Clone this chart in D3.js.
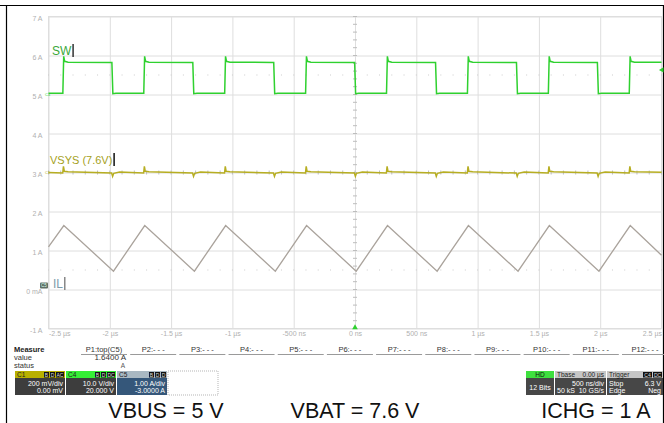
<!DOCTYPE html>
<html>
<head>
<meta charset="utf-8">
<script src="https://cdn.jsdelivr.net/npm/d3@7"></script>
<style>
  body { margin: 0; background: #fff; }
  svg { display: block; font-family: "Liberation Sans", Arial, sans-serif; }
</style>
</head>
<body>
<div id="chart"></div>
<script>
// time axis (ns) and amplitude axis (grid labelled in A, C5 scale)
const timeTicks = [-2500, -2000, -1500, -1000, -500, 0, 500, 1000, 1500, 2000, 2500];
const timeLabels = ["-2.5 µs", "-2 µs", "-1.5 µs", "-1 µs", "-500 ns", "0 ns", "500 ns", "1 µs", "1.5 µs", "2 µs", "2.5 µs"];
const ampTicks = [-1, 0, 1, 2, 3, 4, 5, 6, 7];
const ampLabels = ["-1 A", "0 mA", "1 A", "2 A", "3 A", "4 A", "5 A", "6 A", "7 A"];

// SW (C4) edges in ns, levels in V
const swFall = [-1980, -1320, -660, 0, 660, 1320, 1980];
const swRise = [-2380, -1720, -1060, -400, 260, 920, 1580, 2240];
const swLow = 0.3, swHigh = 8.3, swPeak = 9.8;

// VSYS (C1, AC) spikes in mV
const vsysRiseSpike = 32, vsysFallDip = -20;

// IL (C5) triangle vertices [ns, A]
const ilPoints = [
  [-2500, 1.09], [-2375, 1.64], [-1970, 0.47], [-1715, 1.64], [-1310, 0.47],
  [-1055, 1.64], [-650, 0.47], [-395, 1.64], [10, 0.47], [265, 1.64],
  [670, 0.47], [925, 1.64], [1330, 0.47], [1585, 1.64], [1990, 0.47],
  [2245, 1.64], [2500, 0.88]
];

// channel setup
const chanNames = ["C1", "C4", "C5"];
const chanScale = ["200 mV/div", "10.0 V/div", "1.00 A/div"];
const chanOffset = ["0.00 mV", "20.000 V", "-3.0000 A"];
const chanBadges = [["B", "D", "AC"], ["B", "D", "DC"], ["B", "D", "D"]];

const measureCols = ["P1:top(C5)", "P2:- - -", "P3:- - -", "P4:- - -", "P5:- - -", "P6:- - -",
  "P7:- - -", "P8:- - -", "P9:- - -", "P10:- - -", "P11:- - -", "P12:- - -"];
const measureValue = "1.6400 A";

const footerTexts = ["VBUS = 5 V", "VBAT = 7.6 V", "ICHG = 1 A"];

const W = 664, H = 423;
const svg = d3.select("#chart").append("svg").attr("width", W).attr("height", H);
svg.append("rect").attr("width", W).attr("height", H).attr("fill", "#fff");

// outer frame
svg.append("line").attr("x1", 0).attr("x2", W).attr("y1", 5.5).attr("y2", 5.5).attr("stroke", "#000").attr("stroke-width", 1.2);
svg.append("line").attr("x1", 6.5).attr("x2", 6.5).attr("y1", 5).attr("y2", H).attr("stroke", "#000").attr("stroke-width", 1.2);
svg.append("line").attr("x1", 663.5).attr("x2", 663.5).attr("y1", 5).attr("y2", H).attr("stroke", "#000").attr("stroke-width", 1.2);

const plot = { left: 48.5, right: 661.5, top: 16.5, bottom: 328.5 };
const x = d3.scaleLinear().domain([-2500, 2500]).range([plot.left, plot.right]);
const y = d3.scaleLinear().domain([-1, 7]).range([plot.bottom, plot.top]);

// channel position -> grid units
const c4 = v => 3 + (v + 20) / 10;
const c1 = mv => 3 + mv / 200;

const gridColor = "#dedede";
const labelColor = "#b0b0b0";

// x grid + labels
const xAxis = svg.append("g")
  .attr("transform", "translate(0," + plot.bottom + ")")
  .call(d3.axisBottom(x).tickValues(timeTicks).tickSize(-(plot.bottom - plot.top))
    .tickPadding(3).tickFormat((d, i) => timeLabels[i]));
xAxis.select(".domain").remove();
xAxis.selectAll("line").attr("stroke", gridColor);
xAxis.selectAll("text").attr("fill", labelColor).style("font-size", "7px")
  .attr("text-anchor", (d, i) => i === 0 ? "start" : (i === timeTicks.length - 1 ? "end" : "middle"));

// y grid + labels
const yAxis = svg.append("g")
  .attr("transform", "translate(" + plot.left + ",0)")
  .call(d3.axisLeft(y).tickValues(ampTicks).tickSize(-(plot.right - plot.left))
    .tickPadding(6).tickFormat((d, i) => ampLabels[i]));
yAxis.select(".domain").remove();
yAxis.selectAll("line").attr("stroke", gridColor);
yAxis.selectAll("text").attr("fill", labelColor).style("font-size", "7px").attr("dy", "0.55em");

svg.append("rect")
  .attr("x", plot.left).attr("y", plot.top)
  .attr("width", plot.right - plot.left).attr("height", plot.bottom - plot.top)
  .attr("fill", "none").attr("stroke", gridColor);

// minor ticks on centre axes and dotted rows
const minorT = d3.range(-2500, 2501, 100);
const minorA = d3.range(-1, 7.01, 0.2);
svg.append("g").selectAll("line").data(minorA).join("line")
  .attr("x1", x(0) - 2).attr("x2", x(0) + 2)
  .attr("y1", d => y(d)).attr("y2", d => y(d))
  .attr("stroke", "#bdbdbd");
svg.append("g").selectAll("line").data(minorT).join("line")
  .attr("x1", d => x(d)).attr("x2", d => x(d))
  .attr("y1", y(3) - 2).attr("y2", y(3) + 2)
  .attr("stroke", "#bdbdbd");
[5.5, 0.5].forEach(lv => {
  svg.append("g").selectAll("rect").data(minorT).join("rect")
    .attr("x", d => x(d) - 0.5).attr("y", y(lv) - 0.5)
    .attr("width", 1).attr("height", 1).attr("fill", "#cccccc");
});

// traces
const line = d3.line().x(d => x(d[0])).y(d => y(d[1]));

// IL
svg.append("path").datum(ilPoints)
  .attr("d", line).attr("fill", "none")
  .attr("stroke", "#aaa39c").attr("stroke-width", 1.3);

// VSYS
const vsysPts = [[-2500, c1(0)]];
const vEdges = swRise.map(t => ({ t, r: true })).concat(swFall.map(t => ({ t, r: false })))
  .sort((a, b) => a.t - b.t);
vEdges.forEach(e => {
  if (e.r) {
    vsysPts.push([e.t - 4, c1(-3)], [e.t + 2, c1(vsysRiseSpike)], [e.t + 9, c1(6)], [e.t + 40, c1(4)]);
  } else {
    vsysPts.push([e.t - 5, c1(-3)], [e.t + 3, c1(vsysFallDip)], [e.t + 12, c1(-4)], [e.t + 60, c1(2)]);
  }
});
vsysPts.push([2500, c1(1)]);
svg.append("path").datum(vsysPts)
  .attr("d", line).attr("fill", "none")
  .attr("stroke", "#b7ae22").attr("stroke-width", 1.5);

// SW
const swPts = [[-2500, c4(swLow)]];
vEdges.forEach(e => {
  if (e.r) {
    swPts.push([e.t - 3, c4(swLow)], [e.t + 4, c4(swPeak)], [e.t + 12, c4(swHigh + 0.2)], [e.t + 40, c4(swHigh)]);
  } else {
    swPts.push([e.t - 3, c4(swHigh - 0.1)], [e.t + 5, c4(swLow - 0.1)], [e.t + 30, c4(swLow)]);
  }
});
swPts.push([2500, c4(swHigh)]);
svg.append("path").datum(swPts)
  .attr("d", line).attr("fill", "none")
  .attr("stroke", "#2fd12f").attr("stroke-width", 1.5);

// trace labels with cursor bars
function traceLabel(txt, lx, ly, color, barColor, fs) {
  const t = svg.append("text").attr("x", lx).attr("y", ly)
    .attr("fill", color).style("font-size", fs + "px").text(txt);
  const w = t.node().getComputedTextLength();
  svg.append("rect").attr("x", lx + w + 1).attr("y", ly - 11).attr("width", 1.5).attr("height", 13).attr("fill", barColor);
}
traceLabel("SW", 52, 55, "#3aa83a", "#333", 12);
traceLabel("VSYS (7.6V)", 50, 164, "#a59f22", "#111", 11);
traceLabel("IL", 53, 288, "#7d9cab", "#888", 12);

// channel markers on the left edge
svg.append("text").attr("x", 45).attr("y", y(c4(0)) + 1.5).attr("fill", "#2fd12f").style("font-size", "4px").text("C4");
svg.append("text").attr("x", 45).attr("y", y(3) + 1.5).attr("fill", "#b7ae22").style("font-size", "4px").text("C1");
svg.append("rect").attr("x", 40).attr("y", y(0) - 7).attr("width", 8).attr("height", 6).attr("fill", "#5f6f66").attr("rx", 1);
svg.append("text").attr("x", 44).attr("y", y(0) - 2.5).attr("text-anchor", "middle").attr("fill", "#dfe").style("font-size", "4.5px").text("C5");

// trigger markers
svg.append("path").attr("d", d3.symbol(d3.symbolTriangle, 14)).attr("transform", "translate(" + x(0) + "," + (plot.bottom - 1) + ")").attr("fill", "#2fd12f");
svg.append("path").attr("d", d3.symbol(d3.symbolTriangle, 12)).attr("transform", "translate(" + (plot.right + 0.5) + "," + y(c4(6.3)) + ") rotate(-90)").attr("fill", "#2fd12f");

// measure table
const mFont = "7.5px";
svg.append("text").attr("x", 14).attr("y", 352).style("font-size", mFont).style("font-weight", "bold").attr("fill", "#222").text("Measure");
svg.append("text").attr("x", 14).attr("y", 360).style("font-size", mFont).attr("fill", "#333").text("value");
svg.append("text").attr("x", 14).attr("y", 368).style("font-size", mFont).attr("fill", "#333").text("status");
const colX = d3.scaleLinear().domain([0, 11]).range([104, 645]);
svg.append("g").selectAll("text").data(measureCols).join("text")
  .attr("x", (d, i) => colX(i)).attr("y", 352).attr("text-anchor", "middle")
  .style("font-size", mFont).attr("fill", "#333").text(d => d);
svg.append("g").selectAll("line").data(measureCols).join("line")
  .attr("x1", (d, i) => colX(i) - 23).attr("x2", (d, i) => colX(i) + 23)
  .attr("y1", 354.5).attr("y2", 354.5).attr("stroke", "#9a9a9a");
svg.append("text").attr("x", 126).attr("y", 360).attr("text-anchor", "end").style("font-size", "8px").attr("fill", "#333").text(measureValue);
svg.append("text").attr("x", 125).attr("y", 368).attr("text-anchor", "end").style("font-size", "6.5px").attr("fill", "#555").text("A");

// channel boxes
const boxTop = 371, headH = 7, boxBot = 395;
const chanHead = ["#b8b000", "#36ee36", "#a9b8c2"];
const chanBody = ["#3d3d3d", "#3d3d3d", "#35577a"];
const chanX = [15, 66, 117];
const boxW = 50;
chanNames.forEach((n, i) => {
  const g = svg.append("g").attr("transform", "translate(" + chanX[i] + "," + boxTop + ")");
  g.append("rect").attr("width", boxW).attr("height", headH).attr("fill", chanHead[i]);
  g.append("rect").attr("y", headH).attr("width", boxW).attr("height", boxBot - boxTop - headH).attr("fill", chanBody[i]);
  g.append("text").attr("x", 2).attr("y", 6).style("font-size", "6.5px").attr("fill", "#222").text(n);
  let bx = boxW - 1;
  chanBadges[i].slice().reverse().forEach(b => {
    const bw = b.length > 1 ? 8 : 5;
    bx -= bw;
    g.append("rect").attr("x", bx).attr("y", 1).attr("width", bw).attr("height", 5.5).attr("fill", "#111");
    g.append("text").attr("x", bx + bw / 2).attr("y", 5.6).attr("text-anchor", "middle").style("font-size", "5px").attr("fill", "#ddd").text(b);
    bx -= 1;
  });
  g.append("text").attr("x", boxW - 2).attr("y", 15).attr("text-anchor", "end").style("font-size", "7px").attr("fill", "#fff").text(chanScale[i]);
  g.append("text").attr("x", boxW - 2).attr("y", 22).attr("text-anchor", "end").style("font-size", "7px").attr("fill", "#fff").text(chanOffset[i]);
});
svg.append("rect").attr("x", 168).attr("y", boxTop).attr("width", 50).attr("height", boxBot - boxTop)
  .attr("fill", "none").attr("stroke", "#b5b5b5").attr("stroke-dasharray", "1,1");

// acquisition boxes
const hd = svg.append("g").attr("transform", "translate(526," + boxTop + ")");
hd.append("rect").attr("width", 28).attr("height", headH).attr("fill", "#3ee03e");
hd.append("rect").attr("y", headH).attr("width", 28).attr("height", boxBot - boxTop - headH).attr("fill", "#474747");
hd.append("text").attr("x", 14).attr("y", 6).attr("text-anchor", "middle").style("font-size", "6.5px").attr("fill", "#111").text("HD");
hd.append("text").attr("x", 14).attr("y", 19).attr("text-anchor", "middle").style("font-size", "7px").attr("fill", "#fff").text("12 Bits");

function infoBox(bx, w, headL, headR, rows) {
  const g = svg.append("g").attr("transform", "translate(" + bx + "," + boxTop + ")");
  g.append("rect").attr("width", w).attr("height", headH).attr("fill", "#c6c6c6");
  g.append("rect").attr("y", headH).attr("width", w).attr("height", boxBot - boxTop - headH).attr("fill", "#474747");
  g.append("text").attr("x", 2).attr("y", 6).style("font-size", "6.5px").attr("fill", "#222").text(headL);
  if (headR) g.append("text").attr("x", w - 2).attr("y", 6).attr("text-anchor", "end").style("font-size", "6.5px").attr("fill", "#222").text(headR);
  rows.forEach((r, i) => {
    if (r[0]) g.append("text").attr("x", 2).attr("y", 15 + i * 7).style("font-size", "7px").attr("fill", "#fff").text(r[0]);
    if (r[1]) g.append("text").attr("x", w - 2).attr("y", 15 + i * 7).attr("text-anchor", "end").style("font-size", "7px").attr("fill", "#fff").text(r[1]);
  });
  return g;
}
infoBox(555, 51, "Tbase", "0.00 µs", [["", "500 ns/div"], ["50 kS", "10 GS/s"]]);
const trig = infoBox(607, 56, "Trigger", "", [["Stop", "6.3 V"], ["Edge", "Neg"]]);
[["C4", 36], ["DC", 46]].forEach(b => {
  trig.append("rect").attr("x", b[1]).attr("y", 1).attr("width", 9).attr("height", 5.5).attr("fill", "#111");
  trig.append("text").attr("x", b[1] + 4.5).attr("y", 5.6).attr("text-anchor", "middle").style("font-size", "5px").attr("fill", "#ddd").text(b[0]);
});

// footer conditions
const footX = [166, 355, 596];
svg.append("g").selectAll("text").data(footerTexts).join("text")
  .attr("x", (d, i) => footX[i]).attr("y", 418).attr("text-anchor", "middle")
  .style("font-size", "21.5px").attr("fill", "#111").text(d => d);
</script>
</body>
</html>
